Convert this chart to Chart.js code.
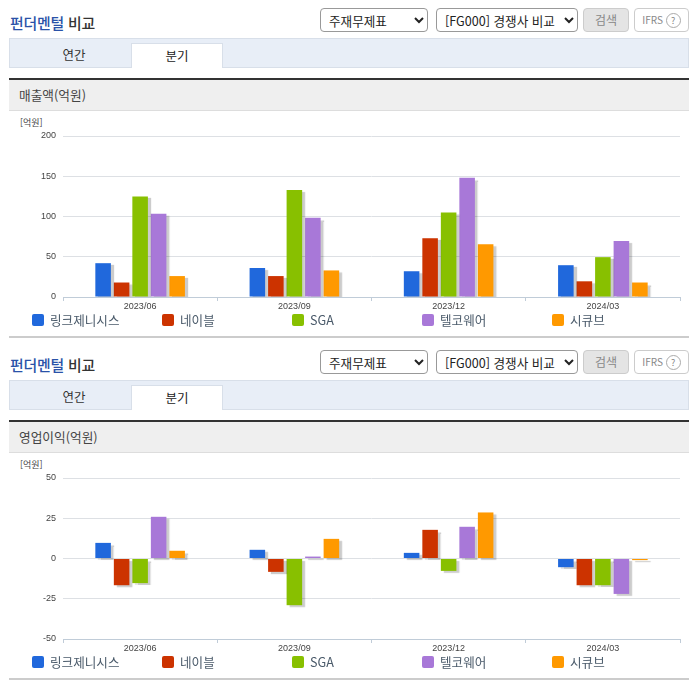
<!DOCTYPE html>
<html lang="ko"><head><meta charset="utf-8">
<script src="https://cdn.jsdelivr.net/npm/chart.js@4"></script>
<style>
html,body{margin:0;padding:0;background:#fff;width:696px;height:684px;overflow:hidden;font-family:"Noto Sans CJK KR","Noto Sans",sans-serif;color:#333}
.a{position:absolute;white-space:nowrap;box-sizing:border-box}
.title{left:10px;font-size:14.9px;font-weight:500;line-height:18px;color:#333;letter-spacing:-.2px}
.title b{font-weight:500;color:#2a52a8}
select{position:absolute;height:24px;font:12.6px "Noto Sans CJK KR",sans-serif;background:#fff;border:1px solid #999;border-radius:4px;color:#222;padding:0 0 0 4px;box-sizing:border-box}
.btn{border-radius:4px;text-align:center;font-size:12px;line-height:22px;height:24px}
.bar{left:9px;width:680px;height:30px;background:#e8eef7;border:1px solid #d8dfe9}
.tab{font-size:12.5px;line-height:24px;text-align:center;height:25px}
.dark{left:9px;width:680px;height:2px;background:#333}
.band{left:9px;width:680px;height:31px;background:#efefef;border-bottom:1px solid #ddd;font-size:12.7px;line-height:30px;padding-left:10px;color:#444}
.unit{left:20px;font-size:9px;line-height:12px;color:#444}
.end{left:9px;width:680px;height:2px;background:#ccc}
.sw{width:12px;height:12px;border-radius:2px}
.lg{font-size:12.6px;line-height:16px;color:#4a5a6a}
canvas{position:absolute;left:10px}
</style></head><body>
<script>
const categories = ["2023/06","2023/09","2023/12","2024/03"];
const seriesNames = ["링크제니시스","네이블","SGA","텔코웨어","시큐브"];
const seriesColors = ["#2068dc","#cc3300","#88c000","#a878d8","#ff9900"];
const revLink = [42,36,32,39.5];
const revNable = [18,26,73,19.5];
const revSga = [125,133,105,49.5];
const revTelco = [103.5,98.5,148,69.5];
const revSecub = [26,33,65.5,18];
const opLink = [9.7,5.4,3.5,-5.4];
const opNable = [-16.6,-8.3,17.8,-16.6];
const opSga = [-15.3,-29,-7.7,-16.6];
const opTelco = [25.9,1.2,19.7,-22];
const opSecub = [4.8,12.2,28.6,-1];
const revTicks = {min:0,max:200,stepSize:50};
const opTicks = {min:-50,max:50,stepSize:25};

function el(cls,top,left,html,extra){
  const d=document.createElement('div');d.className='a '+cls;d.style.top=top+'px';
  if(left!==null)d.style.left=left+'px';
  d.innerHTML=html||'';if(extra)d.style.cssText+=extra;document.body.appendChild(d);return d;
}
const shadow={id:'shadow',
  beforeDatasetsDraw(c){c.ctx.save();c.ctx.shadowColor='rgba(0,0,0,.2)';c.ctx.shadowOffsetX=3;c.ctx.shadowOffsetY=2;c.ctx.shadowBlur=1;},
  afterDatasetsDraw(c){c.ctx.restore();}};

function section(y,label,values,ticks){
  el('title',y+14,null,'<b>펀더멘털</b> 비교');
  const s1=document.createElement('select');s1.style.cssText=`left:320px;top:${y+8}px;width:108px`;s1.innerHTML='<option>주재무제표</option>';document.body.appendChild(s1);
  const s2=document.createElement('select');s2.style.cssText=`left:436px;top:${y+8}px;width:142px`;s2.innerHTML='<option>[FG000] 경쟁사 비교</option>';document.body.appendChild(s2);
  el('btn',y+8,583,'검색','width:46px;background:#e4e4e4;border:1px solid #ccc;color:#888');
  el('btn',y+8,634,'IFRS <span style="display:inline-block;width:13px;height:13px;border:1px solid #aaa;border-radius:50%;line-height:13px;font-size:9px">?</span>','width:55px;background:#fff;border:1px solid #ccc;color:#888;font-size:10px');
  el('bar',y+38,null);
  el('tab',y+43,9,'연간','width:130px;color:#333;line-height:24px');
  el('tab',y+43,131,'분기','width:92px;background:#fff;border:1px solid #d8dfe9;border-bottom:0;color:#222');
  el('dark',y+78,null);
  el('band',y+80,null,label);
  el('unit',y+117,null,'[억원]');
  const cv=document.createElement('canvas');
  const wrap=document.createElement('div');wrap.className='a';wrap.style.cssText=`left:10px;top:${y+112}px;width:680px;height:200px`;
  cv.style.left='0';cv.style.top='0';wrap.appendChild(cv);document.body.appendChild(wrap);
  new Chart(cv,{type:'bar',plugins:[shadow],data:{labels:categories,datasets:seriesNames.map((n,i)=>({label:n,data:values[i],backgroundColor:seriesColors[i],categoryPercentage:.6,barPercentage:.84,minBarLength:1}))},
   options:{responsive:true,maintainAspectRatio:false,animation:false,layout:{padding:{top:24,right:10,left:0,bottom:0}},
    plugins:{legend:{display:false},tooltip:{enabled:false}},
    scales:{
     x:{offset:true,afterFit(s){s.height=15},
        grid:{drawOnChartArea:false,drawTicks:true,tickLength:4,color:'#c0ccd8',offset:true},border:{color:'#c0ccd8'},
        ticks:{font:{size:9,family:'"Liberation Sans",sans-serif'},color:'#444',padding:0,maxRotation:0}},
     y:{min:ticks.min,max:ticks.max,afterFit(s){s.width=53},
        grid:{color:'#dde0e4',drawTicks:false},border:{display:false},
        ticks:{stepSize:ticks.stepSize,font:{size:9,family:'"Liberation Sans",sans-serif'},color:'#444',padding:7,callback:v=>String(v)}}
    }}});
  seriesNames.forEach((n,i)=>{
    const x=32+130*i;
    el('sw',y+314,x,'','background:'+seriesColors[i]);
    el('lg',y+312,x+18,n);
  });
  el('end',y+336,null);
}
section(0,'매출액(억원)',[revLink,revNable,revSga,revTelco,revSecub],revTicks);
section(342,'영업이익(억원)',[opLink,opNable,opSga,opTelco,opSecub],opTicks);
</script>
</body></html>
